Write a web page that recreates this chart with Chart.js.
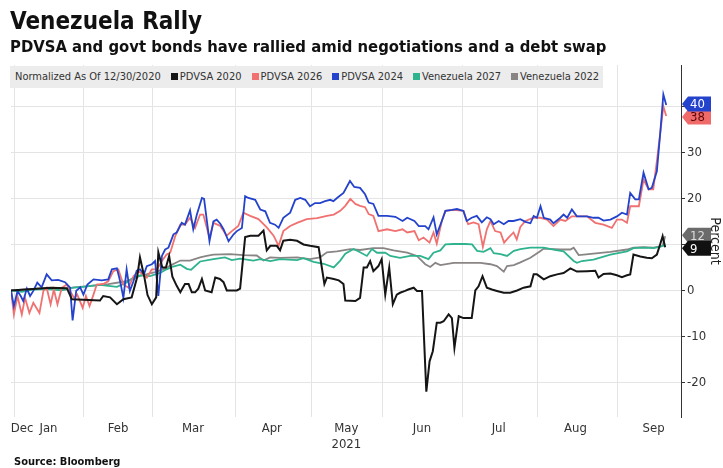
<!DOCTYPE html>
<html>
<head>
<meta charset="utf-8">
<script src="https://cdn.jsdelivr.net/npm/chart.js@4"></script>
<style>
  body { margin: 0; background: #fff; font-family: "DejaVu Sans Condensed", "DejaVu Sans", sans-serif; }
  #wrap { position: relative; width: 723px; height: 468px; overflow: hidden; }
  #title { position: absolute; left: 10px; top: 7px; font-size: 24px; font-weight: bold; color: #111; }
  #subtitle { position: absolute; left: 10px; top: 37px; font-size: 16.5px; font-weight: bold; color: #111; }
  #legend { position: absolute; left: 10px; top: 66px; width: 593px; height: 22px; background: #ececec;
            font-size: 11px; color: #333; line-height: 22px; white-space: nowrap; padding-left: 5px; box-sizing: border-box; }
  #legend span.item { margin-left: 10px; }
  #legend i { display: inline-block; width: 7px; height: 7px; margin-right: 2px; vertical-align: 0px; }
  #source { position: absolute; left: 14px; top: 455px; font-size: 11px; font-weight: bold; color: #111; }
  canvas { position: absolute; left: 0; top: 0; }
</style>
</head>
<body>
<div id="wrap">
  <canvas id="chart" width="723" height="468"></canvas>
  <div id="title">Venezuela Rally</div>
  <div id="subtitle">PDVSA and govt bonds have rallied amid negotiations and a debt swap</div>
  <div id="legend"></div>
  <div id="source">Source: Bloomberg</div>
</div>
<script>
// x values are trading-day index counted from 12/30/2020
var monthGridDays = [1.1, 20, 39.4, 62.2, 83.3, 103.1, 125.3, 146.1, 168.3];
var monthLabelDays = [3.1, 10.4, 29.7, 50.5, 72.4, 93.1, 114.1, 135.4, 156.7, 178.4];
var monthLabels = ['Dec', 'Jan', 'Feb', 'Mar', 'Apr', ['May', '2021'], 'Jun', 'Jul', 'Aug', 'Sep'];
var yTicks = [-20, -10, 0, 10, 20, 30, 40];

var pdvsa2020Days = [0,6,11,15.5,16.9,24.7,25.6,27.5,29.4,31.2,33.5,35,35.8,37,37.9,39.1,40.3,40.9,42,43,43.9,44.8,46,47,48.3,49.3,50.2,51.1,52,53,53.9,55.7,56.7,58,59,59.9,62.7,63.6,65,66.4,68.7,70.1,71,72,73.8,74.7,75.6,77.5,79.4,81.2,83,85.4,87,87.7,89.6,91,92.3,92.8,95.6,96.9,97.9,98.8,99.7,100.6,102,102.9,103.9,105,106,107.1,108,109.4,110.3,111.8,112.7,114.1,115.3,116.2,117.1,118.2,119.2,120.1,121.5,122.4,123.1,124.3,125.6,127.9,128.9,129.8,130.9,132.1,133.5,134.9,136.8,138.6,140.5,142.3,144.2,145.1,146,147.9,149.7,151.6,153.4,155.3,157.1,159.9,162.2,163.1,164.5,166.4,168.2,169.6,171,171.9,172.8,174.7,176.5,177.9,179.3,180.2,180.9,181.6];
var pdvsa2020 = [0,0.3,0.6,0.5,-1.9,-2.2,-1.2,-1.5,-3,-1.9,-1.5,2.8,7.2,3,-1,-3,-1.5,8.3,5,5,7.5,3,1,-0.4,1.4,1.4,-0.4,-0.4,0.4,2.5,0,-0.4,2.8,2.5,1.8,0,0,0.4,11.6,11.9,11.9,13,8.7,9.7,9.7,8.7,10.8,11,10.8,10,9.7,9.4,1.4,2.8,2.5,2.2,1.4,-2.2,-2.3,-1.6,5,5,6.4,4.2,5.3,6.8,-0.9,5,-3,-0.9,-0.5,-0.1,0.2,0.6,-0.1,-0.1,-22,-15.4,-13.2,-7,-7,-6.7,-5.2,-6,-12.5,-5.6,-6,-6,0,0.9,3.1,0.6,0.2,-0.1,-0.5,-0.5,0,0.6,0.9,3.5,3.5,2.4,3.1,3.5,3.8,4.8,4.1,4.2,4.3,2.8,3.6,3.7,3.3,2.9,3.3,3.5,7.8,7.4,7.1,7,7.8,10,11.8,9.4];

var pdvsa2024Days = [0,0.8,1.8,2.7,3.4,4.4,5.3,6.2,7.3,8.5,9.9,11.3,13.1,15,16.4,17.1,18.1,19.2,20.1,21.2,22.9,25.2,27,28,29.4,30.3,31.2,32.1,33,34,34.9,35.8,36.9,37.7,39.1,40,40.9,41.9,42.8,43.7,45.1,46,47.4,48.3,49.7,50.6,51.6,53,53.6,55.1,56.2,57.1,58.1,59,60.4,61.8,62.7,64.1,65,65.9,67.8,69.2,70.6,71.9,73.3,74.3,75.6,77.5,78.9,80.3,81.7,83,84.4,85.8,87.2,88.6,89.5,90.5,92.3,94.1,95.3,96.9,98.3,99.3,100.6,102,104.4,106.7,108.7,110,112,113.2,115,115.9,117.3,118.2,119.6,120.6,122.4,123.8,125.6,126.5,127.9,129.3,130.7,132.1,133.1,134,135.4,136.8,138.1,139.5,141.4,142.8,144.2,145.1,146,147,147.9,149.7,150.6,152.5,153.4,154.4,155.7,157.1,159.9,161.7,163.1,164.5,166.4,168.2,169.6,171,171.9,173.3,174.3,175.6,177,177.9,179.3,180.2,181.1,181.9];
var pdvsa2024 = [0,-3.4,-0.1,-1.2,-2.3,0.4,-1.2,-0.1,1.7,0.7,3.5,2.2,2.3,1.8,0.6,-6.5,-0.1,0.7,-0.9,1.3,2.4,2.2,2.4,4.6,4.8,2,-1.6,4.6,-0.1,2,4.3,4.6,3.5,5.3,5.7,6.4,-1.2,7.5,8.9,9.3,12.2,12.6,14.7,14.3,17.4,13.3,16.5,20.1,19.9,10.7,15,15.4,14.5,13.3,10.7,12.2,12.9,13.6,20.5,20.1,19.7,17.6,17.2,14.7,14.3,13.6,15.8,16.9,19.7,20.1,19.7,18.3,19,19,19.4,19.7,19.4,20.1,21.2,23.8,22.5,22.3,20.9,19.1,18.8,16.2,16.2,16,15.1,15.8,15.1,14,14,13.3,15.9,12.2,15.1,17.3,17.5,17.7,17.3,15.1,15.8,16.2,14.8,15.9,15.5,14.4,15.1,14.4,15.1,15.1,15.5,14.9,14.6,16.2,15.8,18.3,15.8,15.4,14.6,15.8,16.5,15.8,17.6,16.1,16.1,15.8,15.8,15.2,15.4,16.1,16.9,16.5,21.2,19.8,19.8,25.6,22,22.3,25.9,33.9,42.6,40.3];

var pdvsa2026Days = [0,0.8,1.8,3,3.9,5.1,6.2,7.9,9,9.9,11,11.9,12.9,14.1,15.5,16.4,17.5,18.4,19.9,20.8,21.8,22.9,23.8,25.6,27,28.4,29.8,31.2,32.6,34,35.4,37.7,39.1,40.5,41.9,43.2,44.2,45.6,47,48.3,49.7,51.1,52.5,53.4,55.1,56.2,58.1,59.9,61.3,63.1,64.5,66.4,68.7,71,72.9,74.3,75.6,77.5,79.4,82.1,85,87.7,89.6,91.4,92.8,94.2,95.6,96.9,98.3,99.3,100.6,102,104.4,106.7,108.7,110,112,113.2,114.5,116.2,117.3,118.2,119.6,120.6,122.9,125.6,126.9,128.4,129.8,131,132.1,133.1,134.4,135.9,136.9,138.1,139.5,140.4,141.4,142.8,145.1,147,148.8,150.6,152.5,153.9,155.7,157.1,159.9,162.2,164.5,166.8,168.2,169.6,171,171.9,174.3,175.6,177,178.3,179.3,180.2,181.1,181.9];
var pdvsa2026 = [0,-5.2,-1.2,-5.2,-1.6,-4.9,-2.7,-4.9,-0.1,0.6,-3,0.2,-3,0.6,1.3,-0.1,-1.6,-0.9,-3.8,-1.2,-3.4,-0.9,1.3,1.4,2,4.2,4.6,1.3,0.6,3.1,4.2,2.8,4.6,4.6,6.4,7.8,8.2,11.8,14.3,14.3,15.8,13.6,16.5,16.5,11.4,14.7,14,11.9,12.9,14,16.9,16.2,15.5,13.7,11.9,9.7,12.9,14,14.7,15.5,15.7,16.2,16.5,17.3,18.4,19.9,18.8,18.4,18.1,16.6,16.2,12.9,13.3,12.9,13.3,12.6,12.9,10.9,11.5,10.4,12.6,10.2,15.1,17.3,17.5,17.3,14.4,14.8,14.4,9.5,13.3,15.1,12.9,12.6,10.4,11.5,12.6,11.1,13.8,15.1,15.8,15.8,15.4,14,15.4,15.1,16.1,16.1,16.1,14.7,14.3,13.6,15.4,15.4,14.7,18.3,18.3,24.1,22,22,28.1,33.9,40,37.9];

var venezuela2027Days = [0,3,6,10,14,17.3,20,24.7,29.4,32,34,36,38.6,41.4,43.2,45,47,48.8,50,52.5,56.2,59.4,61.3,63.6,67.3,69.2,72,74.7,79.4,81.2,84,86.8,89.6,91.4,92.8,95.1,96.9,98.8,100.2,101.6,103.9,105.3,108,110.8,113.6,115.9,117.3,119.2,120.6,122.9,126.1,128,129.4,131.2,133.1,134,135.9,137.7,139.6,141.4,144.2,147.9,150.6,153.4,156.2,157.1,158.5,161.7,166.4,171,172.8,175.6,178.4,180.3,181.6];
var venezuela2027 = [0,-0.3,0.2,0.3,0,0.6,0.8,1.2,0.8,1.7,2.8,3.3,3.1,3.8,4.6,5.2,5.6,4.7,4.5,6.3,6.8,7.2,6.6,6.9,6.5,6.8,6.4,6.8,6.6,7,6.2,5.8,5,6.5,8,9,8.3,7.5,9,8.2,8.2,7.5,7.1,7.5,7.5,6.8,8.2,8.7,10,10.1,10.1,10,8.6,8.4,9.2,8.1,7.9,7.5,8.6,9,9.3,9.3,8.9,8.5,6.4,6,6.4,6.7,7.8,8.5,9.2,9.3,9.2,9.5,9.9];

var venezuela2022Days = [0,5,10,15,17,22,27,32,36,40,43,44.2,47,49.7,52.5,54.3,56.2,60.8,64.5,68.2,70.1,71.9,74.7,79.4,83,85.8,87.7,90.5,94.2,96.9,100.6,103.4,106.2,110,112.7,115,116.4,117.8,119.2,122.9,126.6,130.3,133.1,134.9,136.8,137.7,139.6,141.4,144.2,147,147.9,152.5,155.3,156.2,157.6,159,161.7,166.4,171,172.8,175.6,178.4,180.9,181.6];
var venezuela2022 = [0,0.3,0.5,0.2,0.6,1,1.4,2,3.2,4,4.8,5.4,6.5,6.5,7.2,7.5,7.8,7.9,7.7,7.6,6.5,7.2,7.1,7.2,6.8,7.2,8.3,8.5,9,8.8,9.2,9.2,8.7,8.2,7.5,5.7,5.1,6,5.5,6,6,6,5.7,5.3,4.1,5.3,5.5,6.1,7.1,8.6,9.1,8.9,8.9,9.3,7.7,7.8,8,8.4,8.9,9.3,9.4,9.3,9.7,11.8];

var seriesNames = ['PDVSA 2020', 'PDVSA 2026', 'PDVSA 2024', 'Venezuela 2027', 'Venezuela 2022'];
var seriesColors = ['#151515', '#f07170', '#2443cc', '#2fb38f', '#8a8585'];

function toPoints(days, vals) {
  return days.map(function (d, i) { return { x: d, y: vals[i] }; });
}

// legend strip
var legendHtml = 'Normalized As Of 12/30/2020';
seriesNames.forEach(function (name, i) {
  legendHtml += '<span class="item"><i style="background:' + seriesColors[i] + '"></i>' + name + '</span>';
});
document.getElementById('legend').innerHTML = legendHtml;

// drawing order: first dataset ends up on top
var datasets = [
  { label: seriesNames[0], data: toPoints(pdvsa2020Days, pdvsa2020), borderColor: seriesColors[0], borderWidth: 2, endBox: '#111111', endText: '#ffffff' },
  { label: seriesNames[2], data: toPoints(pdvsa2024Days, pdvsa2024), borderColor: seriesColors[2], borderWidth: 1.8, endBox: '#2443cc', endText: '#ffffff' },
  { label: seriesNames[1], data: toPoints(pdvsa2026Days, pdvsa2026), borderColor: seriesColors[1], borderWidth: 1.8, endBox: '#f06a6a', endText: '#5a0505' },
  { label: seriesNames[3], data: toPoints(venezuela2027Days, venezuela2027), borderColor: seriesColors[3], borderWidth: 1.8 },
  { label: seriesNames[4], data: toPoints(venezuela2022Days, venezuela2022), borderColor: seriesColors[4], borderWidth: 1.8, endBox: '#6b6b6b', endText: '#dddddd' }
];
datasets.forEach(function (ds) {
  ds.pointRadius = 0;
  ds.tension = 0;
  ds.fill = false;
});

// value boxes at the right end of each line
var endLabelPlugin = {
  id: 'endLabels',
  afterDatasetsDraw: function (chart) {
    var ctx = chart.ctx;
    var yScale = chart.scales.y;
    var x0 = chart.chartArea.right + 1;
    var boxes = [];
    chart.data.datasets.forEach(function (ds, i) {
      if (!ds.endBox) return;
      var last = ds.data[ds.data.length - 1].y;
      boxes.push({ y: yScale.getPixelForValue(last), text: String(Math.round(last)), fill: ds.endBox, color: ds.endText, order: i });
    });
    boxes.sort(function (a, b) { return a.y - b.y; });
    for (var k = 1; k < boxes.length; k++) {
      var gap = boxes[k].y - boxes[k - 1].y;
      if (gap < 13) {
        var shift = (13 - gap) / 2;
        boxes[k - 1].y -= shift;
        boxes[k].y += shift;
      }
    }
    // black last so it sits over the grey one like the original
    boxes.sort(function (a, b) { return b.order - a.order; });
    ctx.save();
    ctx.font = '13px "DejaVu Sans Condensed", "DejaVu Sans", sans-serif';
    ctx.textBaseline = 'middle';
    boxes.forEach(function (b) {
      ctx.beginPath();
      ctx.moveTo(x0, b.y);
      ctx.lineTo(x0 + 6, b.y - 7.5);
      ctx.lineTo(x0 + 29, b.y - 7.5);
      ctx.lineTo(x0 + 29, b.y + 7.5);
      ctx.lineTo(x0 + 6, b.y + 7.5);
      ctx.closePath();
      ctx.fillStyle = b.fill;
      ctx.fill();
      ctx.fillStyle = b.color;
      ctx.fillText(b.text, x0 + 8, b.y + 1);
    });
    ctx.restore();
  }
};

var config = {
  type: 'line',
  data: { datasets: datasets },
  options: {
    responsive: false,
    animation: false,
    layout: { padding: { left: 11, top: 65, right: 0, bottom: 8 } },
    plugins: { legend: { display: false }, tooltip: { enabled: false } },
    scales: {
      x: {
        type: 'linear',
        min: 0,
        max: 186,
        afterBuildTicks: function (scale) {
          var t = monthGridDays.concat(monthLabelDays).sort(function (a, b) { return a - b; });
          scale.ticks = t.map(function (v) { return { value: v }; });
        },
        afterFit: function (scale) { scale.height = 43; },
        ticks: {
          autoSkip: false,
          maxRotation: 0,
          padding: 4,
          color: '#333',
          font: { family: '"DejaVu Sans Condensed", "DejaVu Sans", sans-serif', size: 13 },
          callback: function (value) {
            var i = monthLabelDays.indexOf(value);
            return i >= 0 ? monthLabels[i] : '';
          }
        },
        grid: {
          drawTicks: false,
          color: function (c) {
            return c.tick && monthGridDays.indexOf(c.tick.value) >= 0 ? '#e4e4e4' : 'rgba(0,0,0,0)';
          }
        },
        border: { display: false }
      },
      y: {
        position: 'right',
        min: -27.5,
        max: 49,
        afterBuildTicks: function (scale) {
          scale.ticks = yTicks.map(function (v) { return { value: v }; });
        },
        afterFit: function (scale) { scale.width = 42; },
        ticks: {
          padding: 2,
          color: '#333',
          font: { family: '"DejaVu Sans Condensed", "DejaVu Sans", sans-serif', size: 13 }
        },
        grid: { color: '#e4e4e4', tickLength: 4, tickColor: '#333' },
        border: { display: true, color: '#333', width: 1 },
        title: {
          display: true,
          text: 'Percent',
          color: '#222',
          padding: 0,
          font: { family: '"DejaVu Sans Condensed", "DejaVu Sans", sans-serif', size: 14 }
        }
      }
    }
  },
  plugins: [endLabelPlugin]
};

var myChart = new Chart(document.querySelector('#chart'), config);
</script>
</body>
</html>
